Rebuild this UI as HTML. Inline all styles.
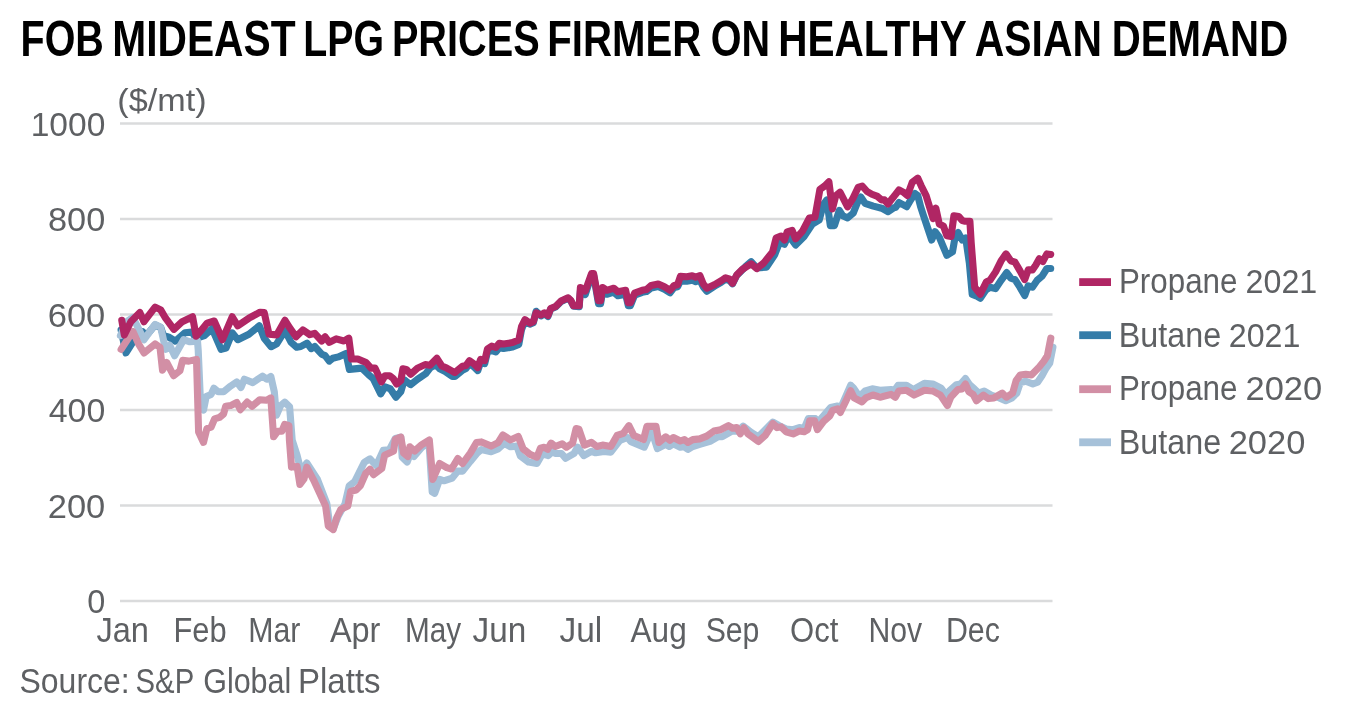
<!DOCTYPE html>
<html lang="en">
<head>
<meta charset="utf-8">
<title>FOB Mideast LPG prices firmer on healthy Asian demand</title>
<style>
html,body{margin:0;padding:0;background:#fff;}
body{width:1362px;height:720px;overflow:hidden;}
svg{display:block;font-family:"Liberation Sans",sans-serif;will-change:transform;}
</style>
</head>
<body>
<svg width="1362" height="720" viewBox="0 0 1362 720">
<rect width="1362" height="720" fill="#ffffff"/>
<line x1="120" y1="123.5" x2="1052.5" y2="123.5" stroke="#DADBDC" stroke-width="2.4"/>
<line x1="120" y1="219" x2="1052.5" y2="219" stroke="#DADBDC" stroke-width="2.4"/>
<line x1="120" y1="314.5" x2="1052.5" y2="314.5" stroke="#DADBDC" stroke-width="2.4"/>
<line x1="120" y1="410" x2="1052.5" y2="410" stroke="#DADBDC" stroke-width="2.4"/>
<line x1="120" y1="505.5" x2="1052.5" y2="505.5" stroke="#DADBDC" stroke-width="2.4"/>
<line x1="120" y1="601" x2="1052.5" y2="601" stroke="#DADBDC" stroke-width="2.4"/>
<polyline points="121.1,330 126,352.9 132.2,343.2 142.6,331.7 144.4,334.4 148.2,333.3 155.1,325 160.7,327.5 163.5,335.6 168.3,336.9 175.3,341.1 185,332.8 191.9,332.1 196.1,338.3 204.4,335.6 212.1,328.6 221.1,349.4 226,348.1 232.2,332.8 237.8,339.7 248.9,334.2 259.3,325.8 264.2,338.3 271.1,346.7 276.7,343.9 285,330.7 291.1,342.4 296.7,347.2 300.8,346.5 307.1,343.1 311.2,348.6 314.7,346.5 321.7,354.2 325.1,355.6 329.3,361.1 332.8,358.3 338.3,356.9 346,353.5 349.4,369.4 361.9,368.1 368.9,375 373.1,378.5 380.7,393.8 384.9,386.8 390.4,388.9 396,397.2 400.8,391.7 404.3,379.9 410.6,384.7 417.5,379.2 425.8,373.6 430,368.1 435.6,364.6 439.7,368.8 445.3,371.5 452.2,376.4 454.9,376.5 462.5,370.2 466,368.6 469.4,363.7 474.3,367.2 477.8,370.6 480.6,362.3 484.7,363.7 487.5,351.9 491.7,350.6 495.8,352 499.3,347.8 503.5,348.5 512.5,347.1 518.8,344.4 521.5,329.7 525,320.7 529.9,324.2 533.3,322.8 536.1,311.3 541,315.9 544.4,313.8 547.9,316.6 550.7,309.1 555.6,307 561.1,301.5 568.1,298.3 570.8,300.8 573.6,306.3 579.2,306.8 580.4,291 585.3,294.5 591.5,275.1 593.6,275.1 598.5,303.7 600.6,303.7 602.6,291.5 606.8,294.3 613.8,292.2 617.9,295.7 625.6,294.3 628.3,305.8 630.4,305.8 634.6,295.1 642.2,292.3 646.4,291.6 651.2,287.9 658.2,286.5 664.4,289.3 670,292.8 674.2,287.4 677.6,286.7 680.4,280.9 686.7,281.2 692.2,280.2 695.7,281.6 699.9,280.2 703.3,287 706.8,291.2 714.4,286.2 721.4,282.1 725.6,279.3 729.7,280.7 732.5,283.8 736.7,275.5 742.2,269.9 745.6,266.5 751.1,261.7 756.7,267.9 766.4,267.2 774.7,254.7 779.6,242.2 784.4,244.3 788.6,235.3 795.6,245 803.9,236.7 812.2,224.2 819.2,220 823.3,204.7 826.8,199.9 830.3,225.6 834.4,225.6 839.3,210.3 842.8,215.8 847.6,217.9 853.2,213.1 857.4,202.6 860.8,197.1 865,203.3 873.3,206.1 881.7,208.2 887.9,211.7 894.2,207.5 895.6,207.4 899,202.5 906.7,206.7 910.8,199.7 915,193.5 917.8,195.6 920.6,206.7 923.3,215 927.5,227.5 931.7,240 935.1,231.7 939.3,237.2 942.8,245.6 946.9,255.3 952.5,251.8 955.3,235.8 958.1,232.4 962.2,240 965.7,237.9 969.4,263.6 972.2,294.4 976.1,295.8 980.3,298.3 985.8,290 990,287.2 995.6,288.6 1001.1,280.3 1006.7,272.6 1010.8,278.2 1015,279.6 1019.9,287.2 1024.7,295.6 1028.2,285.8 1032.4,287.2 1037.2,280.3 1042.1,276.1 1046.9,268.5 1050.7,268.5" fill="none" stroke="#347CA8" stroke-width="7.1" stroke-linejoin="round" stroke-linecap="round"/>
<polyline points="120.4,335.6 126.7,321.7 132.9,317.5 137.8,327.2 144,339.7 155.1,324.4 160.7,327.2 165.6,349.4 169.7,345.3 174.6,355.7 183.6,339.7 189.9,341.8 197.5,341.1 198.2,350 200.7,406.9 203.5,410 206.2,396.5 211.1,394.4 213.9,388.2 218.1,391.7 223.6,391.7 230.6,386.1 236.8,381.9 241,387.5 244.4,379.2 252.8,382.6 262.5,376.1 266.7,379.2 270.8,376.4 274.3,391.7 276.4,415.3 280.6,405.6 284.7,402.1 289.6,406.9 292.2,440 297.1,455.3 301.2,471.9 306.8,462.9 317.2,478.9 326.9,503.9 329.7,524.7 333.2,528.9 338.1,516.4 345,503.9 349.2,485.8 354.7,481.7 364.4,462.2 370,458.8 376.2,465.7 383.2,450.4 389.4,449.7 395.3,438.5 400.8,437.1 402.2,457.2 407.1,462.1 410.6,453.1 414,456.5 421.7,447.5 428.9,441.2 432.2,491.9 434.7,493.3 439.7,479.4 443.9,480.8 452.2,478.1 457.8,471.1 462.6,471.1 470.3,461.4 477.2,453.1 481.4,449.6 491.1,451.7 498.1,448.9 504.3,443.3 510.6,446.8 516.8,446.1 520.3,455.8 528.6,462.1 536.9,463.5 542.5,453.8 548.3,455.6 552.5,451.4 555.3,453.5 561.5,453.5 565.7,458.3 574,453.5 577.5,447.2 583.8,455.6 591.4,451.4 595.6,452.8 603.9,451.4 610.8,452.1 619.9,440.3 627.5,437.5 631,441.7 644.2,447.2 650.4,433.3 652.5,433.3 657.4,448.6 665.7,444.4 669.2,446.5 673.3,443.8 680.3,447.2 683.8,446.5 687.9,449.3 692.8,446.5 699.7,444.4 710.8,441 718.1,436.7 722.2,436.7 731.9,431.1 737.5,431.1 743.1,426.2 751.4,432.5 758.3,436.7 765.3,429.7 772.9,422.1 779.2,425.6 786.1,429 793.1,429.7 799.3,427.6 804.2,428.3 808.3,418.6 815.3,418.6 818.1,422.1 825,414.2 830.6,407.5 837.5,406.1 840.3,408.9 850.7,385.3 853.5,388.1 858.3,395 861.1,395 865.3,390.8 872.2,388.8 880,390.3 891.1,389.6 894.6,390.3 898.1,385.4 906.4,385.4 913.3,389.6 924.4,383.3 932.8,384 941.1,388.2 946.7,395.8 949.4,391 956.4,384.7 960.6,384 965.4,378.5 969.6,384.7 974.4,388.9 978.6,393.1 984.2,391 991.1,395.1 999.4,397.9 1005.7,400.7 1011.9,397.9 1016.8,393.1 1020.3,382.6 1025.8,381.2 1032.8,384 1037.6,382.2 1041.8,376.1 1046,368.3 1049.7,363.2 1052.9,347.2" fill="none" stroke="#A6C1D9" stroke-width="7.1" stroke-linejoin="round" stroke-linecap="round"/>
<polyline points="121.1,349.4 132.9,331.4 138.5,343.9 144,352.9 155.1,343.9 160,347.4 162.5,370.1 166.7,362.5 173.6,375.7 179.9,370.8 182.6,360.4 188.9,361.1 196.5,359.4 198.6,431.9 203.5,442.4 206.9,428.5 211.1,427.1 214.6,418.8 219.4,417.4 223.6,413.9 225.7,406.2 230.6,405.6 236.8,402.5 240.3,409.7 247.2,402.1 252.1,406.2 259.7,399.7 266.7,400.3 270.8,397.9 273.6,436.8 277.8,431.2 281.9,431.2 284.7,424.3 288.9,425.7 289.4,440 291.5,467.1 297.1,466.4 299.9,484.4 304,478.9 306.8,467.1 314.4,481.7 325.6,506 328.3,526.1 333.2,529.6 336.7,517.8 340.8,509.4 347.8,506 350.6,491.4 356.1,490 360.3,485.8 365.8,473.3 370,469.2 373.5,474.7 381.8,468.5 384.6,455.3 393.6,451.1 395.3,439.2 400.8,437.1 403.6,453.1 407.8,456.5 409.9,446.8 414.7,451 421.7,444.7 429.3,439.9 432.8,479.4 439.7,463.5 446.7,467.6 451.5,469 457.8,458.6 462.6,463.5 470.3,453.1 476.5,442.6 481.4,441.9 491.1,446.1 498.1,442.6 502.9,435 510.6,439.9 518.2,436.4 523.1,448.9 530,454.4 536.9,457.2 540.4,448.2 544.2,447.2 547.6,449.3 551.1,443.1 555.3,446.5 562.2,443.8 566.4,447.2 572.6,443.1 576.1,428.5 578.9,429.2 584.4,445.1 591.4,442.4 596.9,446.5 602.5,445.1 610.8,446.5 617.1,435.4 623.3,433.3 628.9,425.7 633.8,435.4 643.5,439.6 646.9,426.4 656,426.4 658.8,442.4 665.7,436.8 669.9,440.3 673.3,437.5 680.3,441 684.4,439.6 687.9,442.4 692.8,439.6 699.7,438.9 706.7,436.1 713.9,431.1 720.8,429.7 728.5,425.6 732.6,428.3 736.8,427.6 740.3,433.9 743.8,427.6 747.9,433.9 752.8,437.4 758.3,441.5 765.3,435.3 772.9,423.5 777.1,427.6 781.2,426.9 786.1,431.8 793.1,433.9 799.3,431.1 804.2,431.8 807.6,429.7 809.7,420.7 814.6,420.7 817.4,429.7 823.6,421.4 829.9,415.8 832.6,410.3 837.5,408.9 840.3,412.4 845.8,401.2 850.7,390.8 854.2,397.8 861.8,401.9 866,397.8 872.9,395 880,397.2 891.1,394.4 895.3,397.2 898.8,391 906.4,390.3 914,395.1 924.4,390.3 932.8,391 940.4,395.1 947.4,405.6 950.8,397.2 957.8,389.6 961.9,388.9 965.4,384 968.9,391.7 973.1,394.4 976.5,400.7 983.5,395.1 988.3,398.6 993.9,397.9 1002.2,393.1 1006.4,397.2 1012.6,393.1 1016.1,380.6 1020.3,375 1025.8,374.3 1031.4,375 1038.3,368.1 1043.9,361.1 1047.4,355.6 1050.8,338.2" fill="none" stroke="#D28FA5" stroke-width="7.1" stroke-linejoin="round" stroke-linecap="round"/>
<polyline points="121.8,320.3 124.3,334.9 130.8,321.7 139.9,312.6 144,321.7 155.1,307.1 160.7,309.9 165.6,318.2 173.9,329.3 182.2,321.7 192.6,316.8 196.1,336.2 200.3,331.4 207.2,323.1 214.2,321 222.5,339.7 232.2,316.8 237.8,325.8 248.9,318.2 260,312.2 264.2,312.6 269,334.2 276.7,334.9 285,320.3 289.7,327.8 296,336.8 302.9,329.9 309.9,334.7 314.7,333.3 321.7,341 325.1,336.8 329.3,342.4 336.2,338.9 343.9,341 348.8,338.2 351.5,359 357.8,359 366.1,362.5 371,368.1 375.1,368.1 381.4,381.9 384.9,375.7 389.7,375.7 393.2,378.5 396.7,384 400.8,380.6 402.9,368.8 406.4,369.4 410.6,374.3 417.5,368.1 425.1,364.6 430,365.3 436.9,358.3 441.8,366 446.7,368.1 452.9,371.5 454.9,372.5 462.5,366.2 466,365.6 469.4,360.7 474.3,364.2 477.8,367.6 480.6,359.3 484.7,360.7 487.5,348.9 491.7,346.1 495.8,347.5 499.3,343.3 503.5,344 512.5,342.6 518.8,339.9 521.5,326.7 525,319.7 529.9,323.2 533.3,321.8 536.1,312.8 541,314.9 544.4,312.8 547.9,315.6 550.7,308.6 555.6,306.5 561.1,301 568.1,297.8 570.8,300.3 573.6,305.8 579.2,305.8 580.4,287.5 585.3,291 591.5,273.6 593.6,273.6 598.5,300.7 600.6,300.7 602.6,287.5 606.8,290.3 613.8,288.2 617.9,291.7 625.6,290.3 628.3,302.8 630.4,302.8 634.6,293.1 642.2,290.3 646.4,289.6 651.2,285.4 658.2,284 664.4,286.8 670,290.3 674.2,285.4 677.6,284.7 680.4,276.4 686.7,276.7 692.2,275.7 695.7,277.1 699.9,275.7 703.3,284 706.8,288.2 714.4,284.7 721.4,280.6 725.6,277.8 729.7,279.2 732.5,283.3 736.7,275 742.2,269.4 745.6,267.2 751.1,263.8 756.7,268.6 763.6,263.1 772.6,251.9 776.1,238.1 781,236 784.4,240.1 787.2,231.8 792.1,230.4 795.6,238.8 802.5,231.1 809.4,217.9 815,217.2 819.9,189.4 824.7,186 828.9,181.8 832.4,208.9 835.8,195.7 840,192.2 847.6,206.8 852.5,199.2 858.1,187.4 862.2,186 867.1,191.5 871.9,194.3 877.5,196.4 881.7,199.9 884.4,199.9 887.9,204 892.8,197.8 894.2,196.2 899,190 903.2,192.1 907.4,195.6 912.2,182.4 917.8,178.2 921.2,185.8 926.1,195.6 930.3,209.4 933.1,218.5 935.8,208.1 939.3,224 943.5,226.1 946.9,235.8 951.1,236.5 953.9,215.7 958.8,216.4 962.2,220.6 965,221.2 969.9,221.2 971.2,242.8 974.7,287.2 980.3,294.2 986.5,281.7 990,280.3 995.6,271.9 1001.1,260.8 1006,253.9 1010.8,260.8 1015,262.2 1019.9,270.6 1024.7,279.6 1028.2,269.9 1032.4,269.9 1035.8,265 1039.3,258.8 1042.8,261.5 1046.9,253.9 1050.7,254.4" fill="none" stroke="#B02664" stroke-width="7.1" stroke-linejoin="round" stroke-linecap="round"/>
<text x="20.54" y="55.5" font-size="50" font-weight="bold" fill="#000" textLength="83.27" lengthAdjust="spacingAndGlyphs">FOB</text>
<text x="112.25" y="55.5" font-size="50" font-weight="bold" fill="#000" textLength="183.36" lengthAdjust="spacingAndGlyphs">MIDEAST</text>
<text x="303.35" y="55.5" font-size="50" font-weight="bold" fill="#000" textLength="80.73" lengthAdjust="spacingAndGlyphs">LPG</text>
<text x="391.92" y="55.5" font-size="50" font-weight="bold" fill="#000" textLength="147.69" lengthAdjust="spacingAndGlyphs">PRICES</text>
<text x="547.29" y="55.5" font-size="50" font-weight="bold" fill="#000" textLength="153.94" lengthAdjust="spacingAndGlyphs">FIRMER</text>
<text x="710.72" y="55.5" font-size="50" font-weight="bold" fill="#000" textLength="59.36" lengthAdjust="spacingAndGlyphs">ON</text>
<text x="778.26" y="55.5" font-size="50" font-weight="bold" fill="#000" textLength="188.47" lengthAdjust="spacingAndGlyphs">HEALTHY</text>
<text x="974.78" y="55.5" font-size="50" font-weight="bold" fill="#000" textLength="127.13" lengthAdjust="spacingAndGlyphs">ASIAN</text>
<text x="1111.79" y="55.5" font-size="50" font-weight="bold" fill="#000" textLength="176.37" lengthAdjust="spacingAndGlyphs">DEMAND</text>
<text x="117.36" y="111" font-size="31.5" font-weight="normal" fill="#5E6063" textLength="89.20" lengthAdjust="spacingAndGlyphs">($/mt)</text>
<text x="30.68" y="136" font-size="32.8" font-weight="normal" fill="#5E6063" textLength="74.65" lengthAdjust="spacingAndGlyphs">1000</text>
<text x="48.04" y="230.9" font-size="32.8" font-weight="normal" fill="#5E6063" textLength="57.28" lengthAdjust="spacingAndGlyphs">800</text>
<text x="47.78" y="326.7" font-size="32.8" font-weight="normal" fill="#5E6063" textLength="57.55" lengthAdjust="spacingAndGlyphs">600</text>
<text x="48.74" y="422.2" font-size="32.8" font-weight="normal" fill="#5E6063" textLength="56.57" lengthAdjust="spacingAndGlyphs">400</text>
<text x="47.78" y="517.8" font-size="32.8" font-weight="normal" fill="#5E6063" textLength="57.55" lengthAdjust="spacingAndGlyphs">200</text>
<text x="87.20" y="613.3" font-size="32.8" font-weight="normal" fill="#5E6063" textLength="18.05" lengthAdjust="spacingAndGlyphs">0</text>
<text x="96.41" y="642.1" font-size="34.2" font-weight="normal" fill="#5E6063" textLength="52.48" lengthAdjust="spacingAndGlyphs">Jan</text>
<text x="173.46" y="642.1" font-size="34.2" font-weight="normal" fill="#5E6063" textLength="53.10" lengthAdjust="spacingAndGlyphs">Feb</text>
<text x="248.30" y="642.1" font-size="34.2" font-weight="normal" fill="#5E6063" textLength="52.14" lengthAdjust="spacingAndGlyphs">Mar</text>
<text x="329.92" y="642.1" font-size="34.2" font-weight="normal" fill="#5E6063" textLength="50.51" lengthAdjust="spacingAndGlyphs">Apr</text>
<text x="404.95" y="642.1" font-size="34.2" font-weight="normal" fill="#5E6063" textLength="56.20" lengthAdjust="spacingAndGlyphs">May</text>
<text x="472.50" y="642.1" font-size="34.2" font-weight="normal" fill="#5E6063" textLength="53.74" lengthAdjust="spacingAndGlyphs">Jun</text>
<text x="559.50" y="642.1" font-size="34.2" font-weight="normal" fill="#5E6063" textLength="42.79" lengthAdjust="spacingAndGlyphs">Jul</text>
<text x="630.52" y="642.1" font-size="34.2" font-weight="normal" fill="#5E6063" textLength="56.21" lengthAdjust="spacingAndGlyphs">Aug</text>
<text x="705.64" y="642.1" font-size="34.2" font-weight="normal" fill="#5E6063" textLength="53.83" lengthAdjust="spacingAndGlyphs">Sep</text>
<text x="790.12" y="642.1" font-size="34.2" font-weight="normal" fill="#5E6063" textLength="48.33" lengthAdjust="spacingAndGlyphs">Oct</text>
<text x="868.51" y="642.1" font-size="34.2" font-weight="normal" fill="#5E6063" textLength="53.67" lengthAdjust="spacingAndGlyphs">Nov</text>
<text x="945.90" y="642.1" font-size="34.2" font-weight="normal" fill="#5E6063" textLength="53.96" lengthAdjust="spacingAndGlyphs">Dec</text>
<text x="19.46" y="693.2" font-size="34.2" font-weight="normal" fill="#5E6063" textLength="110.26" lengthAdjust="spacingAndGlyphs">Source:</text>
<text x="135.58" y="693.2" font-size="34.2" font-weight="normal" fill="#5E6063" textLength="58.61" lengthAdjust="spacingAndGlyphs">S&amp;P</text>
<text x="203.18" y="693.2" font-size="34.2" font-weight="normal" fill="#5E6063" textLength="88.10" lengthAdjust="spacingAndGlyphs">Global</text>
<text x="297.97" y="693.2" font-size="34.2" font-weight="normal" fill="#5E6063" textLength="82.62" lengthAdjust="spacingAndGlyphs">Platts</text>
<rect x="1079.2" y="278.2" width="31.8" height="7.8" fill="#B02664"/>
<text x="1118.91" y="293.3" font-size="34.2" font-weight="normal" fill="#5E6063" textLength="118.55" lengthAdjust="spacingAndGlyphs">Propane</text>
<text x="1245.59" y="293.3" font-size="33" font-weight="normal" fill="#5E6063" textLength="71.71" lengthAdjust="spacingAndGlyphs">2021</text>
<rect x="1079.2" y="331.3" width="31.8" height="7.8" fill="#347CA8"/>
<text x="1118.84" y="346.7" font-size="34.2" font-weight="normal" fill="#5E6063" textLength="102.30" lengthAdjust="spacingAndGlyphs">Butane</text>
<text x="1228.79" y="346.7" font-size="33" font-weight="normal" fill="#5E6063" textLength="71.61" lengthAdjust="spacingAndGlyphs">2021</text>
<rect x="1079.2" y="385.3" width="31.8" height="7.8" fill="#D28FA5"/>
<text x="1118.91" y="400.2" font-size="34.2" font-weight="normal" fill="#5E6063" textLength="118.55" lengthAdjust="spacingAndGlyphs">Propane</text>
<text x="1245.48" y="400.2" font-size="33" font-weight="normal" fill="#5E6063" textLength="76.69" lengthAdjust="spacingAndGlyphs">2020</text>
<rect x="1079.2" y="438.4" width="31.8" height="7.8" fill="#A6C1D9"/>
<text x="1118.84" y="453.7" font-size="34.2" font-weight="normal" fill="#5E6063" textLength="102.30" lengthAdjust="spacingAndGlyphs">Butane</text>
<text x="1228.68" y="453.7" font-size="33" font-weight="normal" fill="#5E6063" textLength="76.69" lengthAdjust="spacingAndGlyphs">2020</text>
</svg>
</body>
</html>
